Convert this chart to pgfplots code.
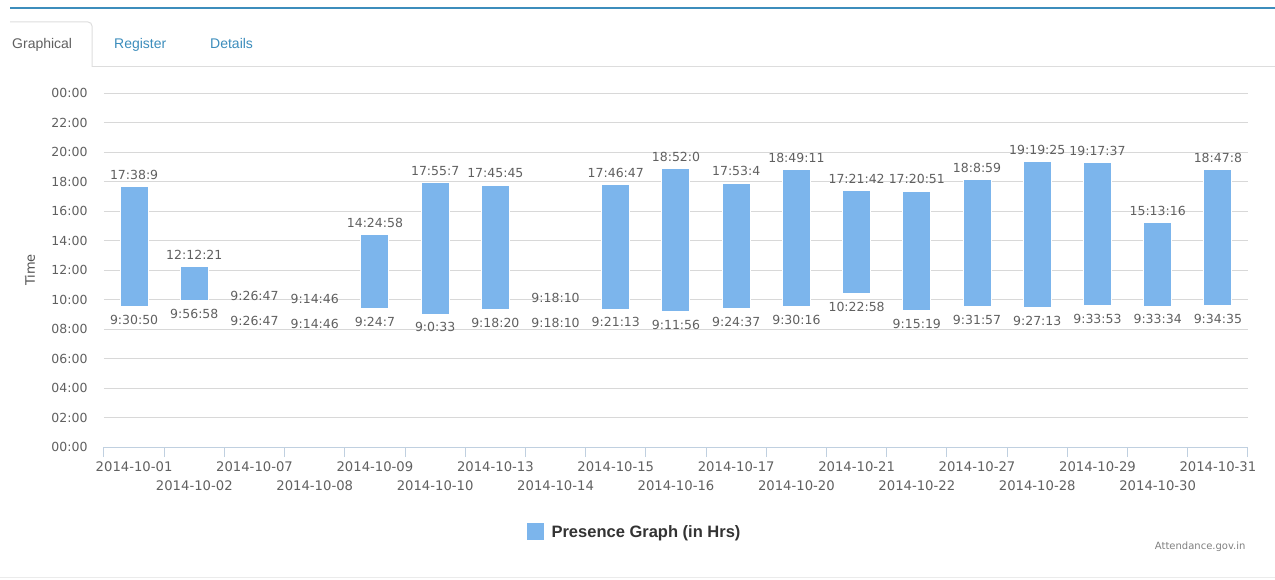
\documentclass[border=0pt]{standalone}
\usepackage{fontspec}
\setmainfont{Liberation Sans}
\newfontfamily\dejavu{DejaVu Sans}
\usepackage{pgfplots}
\usepackage{pgfplotstable}
\pgfplotsset{compat=1.18}
\definecolor{barblue}{HTML}{7CB5EC}
\definecolor{gridgray}{HTML}{D8D8D8}
\definecolor{axisblue}{HTML}{C0D0E0}
\definecolor{labelgray}{HTML}{606060}
\definecolor{topblue}{HTML}{3C8DBC}
\definecolor{tabline}{HTML}{DDDDDD}

% in/out times as decimal hours, labels as shown on the chart
\pgfplotstableread{
x start end slbl elbl
0 9.5139 17.6358 9:30:50 17:38:9
1 9.9494 12.2058 9:56:58 12:12:21
2 9.4464 9.4464 9:26:47 9:26:47
3 9.2461 9.2461 9:14:46 9:14:46
4 9.4019 14.4161 9:24:7 14:24:58
5 9.0092 17.9186 9:0:33 17:55:7
6 9.3056 17.7625 9:18:20 17:45:45
7 9.3028 9.3028 9:18:10 9:18:10
8 9.3536 17.7797 9:21:13 17:46:47
9 9.1989 18.8667 9:11:56 18:52:0
10 9.4103 17.8844 9:24:37 17:53:4
11 9.5044 18.8197 9:30:16 18:49:11
12 10.3828 17.3617 10:22:58 17:21:42
13 9.2553 17.3475 9:15:19 17:20:51
14 9.5325 18.1497 9:31:57 18:8:59
15 9.4536 19.3236 9:27:13 19:19:25
16 9.5647 19.2936 9:33:53 19:17:37
17 9.5594 15.2211 9:33:34 15:13:16
18 9.5764 18.7856 9:34:35 18:47:8
}\presence

\pgfplotsset{
  chartframe/.style={
    scale only axis, width=1144pt, height=354pt,
    at={(104pt,132pt)}, anchor=south west,
    clip=false,
    xmin=-0.5, xmax=18.5, ymin=0, ymax=24,
  },
}

\begin{document}
\begin{tikzpicture}
\useasboundingbox (0,0) rectangle (1275pt,579pt);
% page decoration
\draw[topblue, line width=2pt] (10pt,571pt) -- (1275pt,571pt);
\draw[tabline, line width=1pt, rounded corners=4pt] (10pt,557pt) -- (92pt,557pt) -- (92pt,512pt);
\draw[tabline, line width=1pt] (92pt,512pt) -- (1275pt,512pt);
\node[anchor=base west, inner sep=0pt, font=\fontsize{14}{16}\selectfont, text=labelgray] at (12pt,530pt) {Graphical};
\node[anchor=base west, inner sep=0pt, font=\fontsize{14}{16}\selectfont, text=topblue] at (114pt,530pt) {Register};
\node[anchor=base west, inner sep=0pt, font=\fontsize{14}{16}\selectfont, text=topblue] at (210pt,530pt) {Details};
\draw[tabline!60, line width=1pt] (0pt,2pt) -- (1275pt,2pt);
\node[anchor=east, font=\dejavu\fontsize{10}{12}\selectfont, text=gray] at (1249pt,32pt) {Attendance.gov.in};

\begin{axis}[
  chartframe,
  ybar stacked, bar width=28pt,
  axis x line*=bottom, axis y line*=left,
  x axis line style={draw=axisblue, line width=1pt, -},
  y axis line style={draw=none},
  ytick={0,2,...,24},
  yticklabels={00:00,02:00,04:00,06:00,08:00,10:00,12:00,14:00,16:00,18:00,20:00,22:00,00:00},
  ytick style={draw=none},
  ymajorgrids, grid style={gridgray, line width=1pt},
  tick align=outside,
  major tick length=0pt,
  minor tick length=10pt,
  minor xtick={-0.5,0.5,...,18.5},
  minor x tick style={draw=axisblue, line width=1pt},
  xtick={0,2,...,18},
  xticklabels={2014-10-01,2014-10-07,2014-10-09,2014-10-13,2014-10-15,2014-10-17,2014-10-21,2014-10-27,2014-10-29,2014-10-31},
  extra x ticks={1,3,...,17},
  extra x tick labels={2014-10-02,2014-10-08,2014-10-10,2014-10-14,2014-10-16,2014-10-20,2014-10-22,2014-10-28,2014-10-30},
  extra x tick style={grid=none, major tick length=0pt, xticklabel style={yshift=-19pt}},
  yticklabel style={font=\dejavu\fontsize{12.5}{14}\selectfont, text=labelgray, xshift=-13pt},
  xticklabel style={font=\dejavu\fontsize{13.2}{15}\selectfont, text=labelgray, yshift=-11pt},
  ylabel={Time},
  ylabel style={at={(axis description cs:-0.0647,0.5)}, anchor=center,
    font=\dejavu\fontsize{13}{15}\selectfont, text=labelgray!85!black},
  legend style={at={(axis description cs:0.464,-0.24)}, anchor=center,
    draw=none, fill=none, font=\bfseries\fontsize{16.5}{18}\selectfont, text=black!80},
]
\addlegendimage{legend image code/.code={\fill[barblue] (0pt,-7.5pt) rectangle (16pt,8.5pt); \path (22pt,0pt);}}
\addlegendentry{Presence Graph (in Hrs)}
\addplot[draw=none, fill=none] table[x=x, y=start] {\presence};
\addplot[fill=barblue, draw=white, line width=1pt]
  table[x=x, y expr=\thisrow{end}-\thisrow{start}] {\presence};
\end{axis}

% data labels: same frame, no axis drawn
\begin{axis}[
  chartframe, hide axis,
  nodes near coords, point meta=explicit symbolic,
  every node near coord/.append style={font=\dejavu\fontsize{12.5}{14}\selectfont, text=labelgray},
]
\addplot[only marks, mark=none, nodes near coords align={above},
  every node near coord/.append style={yshift=3.5pt}]
  table[x=x, y=end, meta=elbl] {\presence};
\addplot[only marks, mark=none, nodes near coords align={below},
  every node near coord/.append style={yshift=-5pt}]
  table[x=x, y=start, meta=slbl] {\presence};
\end{axis}
\end{tikzpicture}
\end{document}
